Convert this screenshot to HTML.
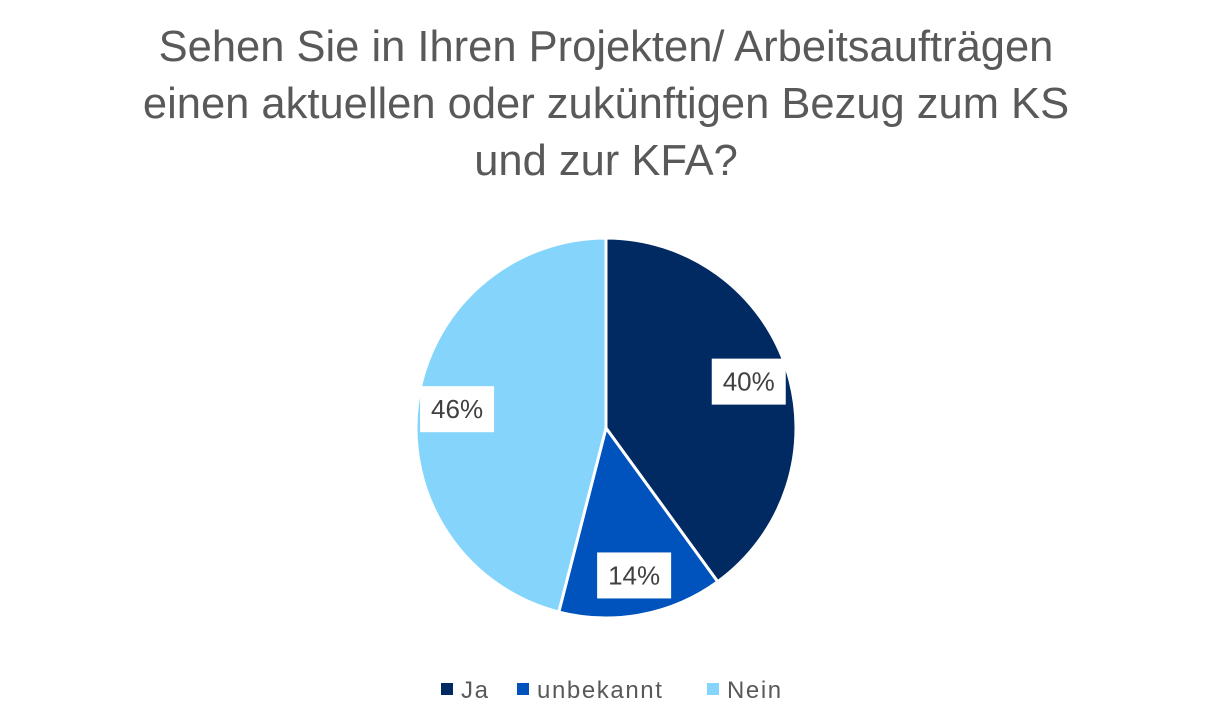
<!DOCTYPE html>
<html><head><meta charset="utf-8">
<style>
html,body{margin:0;padding:0;background:#fff;}
body{width:1211px;height:711px;overflow:hidden;font-family:"Liberation Sans",sans-serif;}
</style></head>
<body>
<svg id="chart" width="1211" height="711" xmlns="http://www.w3.org/2000/svg">
<g font-family="Liberation Sans, sans-serif" font-size="43.5" fill="#595959" text-anchor="middle">
<text x="606" y="61">Sehen Sie in Ihren Projekten/ Arbeitsaufträgen</text>
<text x="606" y="118">einen aktuellen oder zukünftigen Bezug zum KS</text>
<text x="606" y="175">und zur KFA?</text>
</g>
<g id="slices"></g>
<g id="labels"></g>
<g id="legend"></g>
</svg>
<script>
const categories = ["Ja", "unbekannt", "Nein"];
const values = [40, 14, 46];
const valueLabels = ["40%", "14%", "46%"];
const colors = ["#002a61", "#0052bd", "#84d4fc"];

const NS = "http://www.w3.org/2000/svg";
const cx = 606, cy = 428, R = 190;
const total = values.reduce((a, b) => a + b, 0);
const sliceG = document.getElementById("slices");
const labelG = document.getElementById("labels");
const legendG = document.getElementById("legend");
function pt(frac, r) {
  const a = frac * 2 * Math.PI;
  return [cx + r * Math.sin(a), cy - r * Math.cos(a)];
}
let acc = 0;
values.forEach((v, i) => {
  const f0 = acc / total, f1 = (acc + v) / total;
  acc += v;
  const p0 = pt(f0, R), p1 = pt(f1, R);
  const large = (f1 - f0) > 0.5 ? 1 : 0;
  const path = document.createElementNS(NS, "path");
  path.setAttribute("d", `M${cx},${cy} L${p0[0]},${p0[1]} A${R},${R} 0 ${large} 1 ${p1[0]},${p1[1]} Z`);
  path.setAttribute("fill", colors[i]);
  path.setAttribute("stroke", "#fff");
  path.setAttribute("stroke-width", "3");
  
  
  sliceG.appendChild(path);

  const lp = pt((f0 + f1) / 2, R * 0.79);
  const rect = document.createElementNS(NS, "rect");
  rect.setAttribute("x", lp[0] - 37);
  rect.setAttribute("y", lp[1] - 23);
  rect.setAttribute("width", 74);
  rect.setAttribute("height", 46);
  rect.setAttribute("fill", "#fff");
  
  
  labelG.appendChild(rect);
  const t = document.createElementNS(NS, "text");
  t.setAttribute("x", lp[0]);
  t.setAttribute("y", lp[1] + 9);
  t.setAttribute("text-anchor", "middle");
  t.setAttribute("font-size", "26");
  t.setAttribute("fill", "#404040");
  t.textContent = valueLabels[i];
  
  
  labelG.appendChild(t);
});
const legendX = [441, 517, 707];
categories.forEach((c, i) => {
  const g = document.createElementNS(NS, "g");
  
  
  const s = document.createElementNS(NS, "rect");
  s.setAttribute("x", legendX[i]);
  s.setAttribute("y", 683);
  s.setAttribute("width", 12);
  s.setAttribute("height", 12);
  s.setAttribute("fill", colors[i]);
  g.appendChild(s);
  const t = document.createElementNS(NS, "text");
  t.setAttribute("x", legendX[i] + 20);
  t.setAttribute("y", 698);
  t.setAttribute("font-size", "24");
  t.setAttribute("letter-spacing", "1.6");
  t.setAttribute("fill", "#595959");
  t.textContent = c;
  g.appendChild(t);
  legendG.appendChild(g);
});
</script>
</body></html>
